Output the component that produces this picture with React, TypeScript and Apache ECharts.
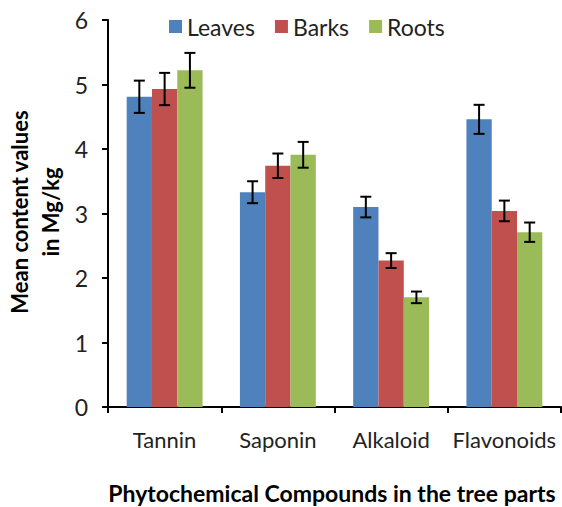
import React, { useEffect, useRef } from "react";
import * as echarts from "echarts";

const categories = ["Tannin", "Saponin", "Alkaloid", "Flavonoids"];
const seriesNames = ["Leaves", "Barks", "Roots"];
const leaves = [4.81, 3.33, 3.1, 4.46];
const barks = [4.93, 3.74, 2.27, 3.04];
const roots = [5.22, 3.91, 1.7, 2.71];
const leavesErr = [0.25, 0.17, 0.16, 0.225];
const barksErr = [0.25, 0.19, 0.115, 0.16];
const rootsErr = [0.27, 0.2, 0.09, 0.15];
const colors = ["#4F81BD", "#C0504D", "#9BBB59"];
const FONT = "Lato";
const CAT_GAP = 0.33;

export default function App() {
  const ref = useRef<HTMLDivElement>(null);
  useEffect(() => {
    if (!ref.current) return;
    const chart = echarts.init(ref.current, null, { renderer: "svg" });
    const values = [leaves, barks, roots];
    const errs = [leavesErr, barksErr, rootsErr];
    const barSeries = values.map((v, i) => ({
      name: seriesNames[i],
      type: "bar",
      data: v,
      barGap: "0%",
      barCategoryGap: CAT_GAP * 100 + "%",
      itemStyle: { color: colors[i] },
    }));
    const errSeries = values.map((v, i) => ({
      type: "custom",
      name: seriesNames[i] + " error",
      z: 10,
      silent: true,
      data: v.map((val, k) => [k, val - errs[i][k], val + errs[i][k]]),
      renderItem: (params: any, api: any) => {
        const x = api.value(0);
        const lo = api.coord([x, api.value(1)]);
        const hi = api.coord([x, api.value(2)]);
        const band = api.size([1, 0])[0];
        const bw = (band * (1 - CAT_GAP)) / 3;
        const cx = lo[0] + (i - 1) * bw;
        const cap = 5.5;
        const style = { stroke: "#000", lineWidth: 2, fill: null };
        return {
          type: "group",
          children: [
            { type: "line", shape: { x1: cx, y1: lo[1], x2: cx, y2: hi[1] }, style },
            { type: "line", shape: { x1: cx - cap, y1: lo[1], x2: cx + cap, y2: lo[1] }, style },
            { type: "line", shape: { x1: cx - cap, y1: hi[1], x2: cx + cap, y2: hi[1] }, style },
          ],
        };
      },
    }));
    chart.setOption({
      animation: false,
      legend: {
        data: seriesNames,
        left: 164,
        top: 10,
        itemWidth: 13,
        itemHeight: 13,
        itemGap: 20,
        icon: "rect",
        textStyle: { fontFamily: FONT, fontSize: 23, color: "#222" },
      },
      grid: { left: 108, right: 1, top: 20, bottom: 100, containLabel: false },
      xAxis: {
        type: "category",
        data: categories,
        axisLine: { lineStyle: { color: "#000", width: 2 } },
        axisTick: { show: true, length: 6, lineStyle: { color: "#000", width: 2 } },
        axisLabel: { interval: 0, fontFamily: FONT, fontSize: 22, color: "#222", margin: 21 },
      },
      yAxis: {
        type: "value",
        min: 0,
        max: 6,
        interval: 1,
        splitLine: { show: false },
        axisLine: { show: true, lineStyle: { color: "#000", width: 2 } },
        axisTick: { show: true, length: 6, lineStyle: { color: "#000", width: 2 } },
        axisLabel: { fontFamily: FONT, fontSize: 23, color: "#222", margin: 20 },
      },
      graphic: [
        {
          type: "text",
          x: 35,
          y: 212,
          rotation: Math.PI / 2,
          style: {
            text: "Mean content values\nin Mg/kg",
            fontFamily: FONT,
            fontWeight: "bold",
            fontSize: 22,
            lineHeight: 31,
            fill: "#000",
            align: "center",
            verticalAlign: "middle",
          },
        },
        {
          type: "text",
          x: 332,
          y: 493,
          style: {
            text: "Phytochemical Compounds in the tree parts",
            fontFamily: FONT,
            fontWeight: "bold",
            fontSize: 23,
            fill: "#000",
            align: "center",
            verticalAlign: "middle",
          },
        },
      ],
      series: [...barSeries, ...errSeries],
    });
    return () => chart.dispose();
  }, []);
  return (
    <div
      ref={ref}
      style={{ position: "fixed", left: 0, top: 0, width: 562, height: 507, background: "#fff" }}
    />
  );
}
